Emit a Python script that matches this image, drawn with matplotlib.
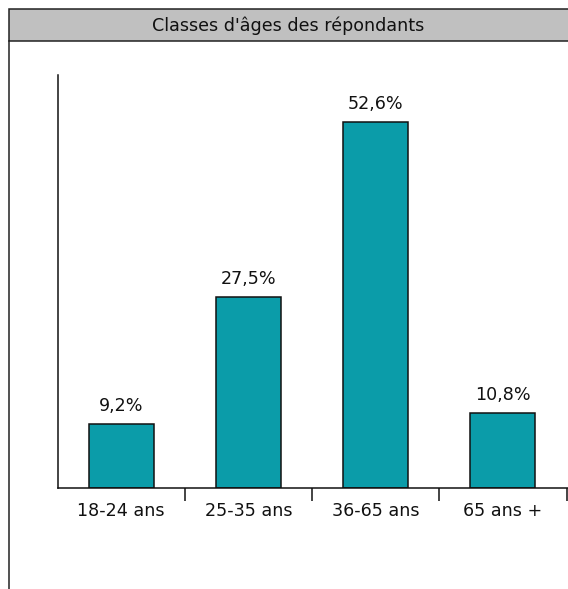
import matplotlib
matplotlib.use("Agg")
import matplotlib.pyplot as plt
from matplotlib.patches import Rectangle
from matplotlib.lines import Line2D

W, H = 568, 589

# données
categories = ["18-24 ans", "25-35 ans", "36-65 ans", "65 ans +"]
pourcentages = [9.2, 27.5, 52.6, 10.8]
titre = "Classes d'âges des répondants"

BAR_COLOR = "#0b9ca9"
FONT = "DejaVu Sans"
FONT_SIZE = 12.6


def fx(px):
    """pixel x -> fraction de la figure"""
    return px / W


def fy(py):
    """pixel y (depuis le haut) -> fraction de la figure"""
    return 1 - py / H


fig = plt.figure(figsize=(W / 100, H / 100), dpi=100)
fig.patch.set_facecolor("white")

# cadre + barre de titre
fig.add_artist(Rectangle((fx(8.5), fy(41)), fx(W + 10) - fx(8.5), fy(9.5) - fy(41),
                         transform=fig.transFigure, facecolor="#c0c0c0",
                         edgecolor="#222222", linewidth=1.1))
fig.add_artist(Line2D([fx(8.5), fx(8.5)], [fy(41), fy(H + 5)],
                      transform=fig.transFigure, color="#222222", linewidth=1.1))
fig.text(fx(288.5), fy(25.5), titre, ha="center", va="center",
         fontsize=FONT_SIZE, family=FONT, color="#111111")

# zone du graphique
left, right, top, bottom = 57.5, 568, 75, 488
ax = fig.add_axes([fx(left), fy(bottom), fx(right) - fx(left), fy(top) - fy(bottom)])
cat_w = 127.25
x = list(range(len(categories)))
ax.bar(x, pourcentages, width=0.51, color=BAR_COLOR, edgecolor="#111111", linewidth=1.1)

ax.set_xlim(-0.5, -0.5 + (right - left) / cat_w)
ax.set_ylim(0, 59.4)

for xi, v in zip(x, pourcentages):
    ax.annotate(f"{v:.1f}%".replace(".", ","), (xi, v), xytext=(0, 9.4),
                textcoords="offset points", ha="center", va="baseline",
                fontsize=FONT_SIZE, family=FONT, color="#111111")

for s in ["top", "right"]:
    ax.spines[s].set_visible(False)
for s in ["left", "bottom"]:
    ax.spines[s].set_linewidth(1.1)
    ax.spines[s].set_color("#111111")

ax.set_yticks([])
ax.set_xticks([0.5, 1.5, 2.5, 3.5])
ax.set_xticklabels([])
ax.tick_params(axis="x", which="major", length=9.4, width=1.1, color="#111111", direction="out")
ax.set_xticks(x, minor=True)
ax.set_xticklabels(categories, minor=True, fontsize=FONT_SIZE, family=FONT, color="#111111")
ax.tick_params(axis="x", which="minor", length=0, pad=10)

fig.savefig("out.png", dpi=100, facecolor="white")
